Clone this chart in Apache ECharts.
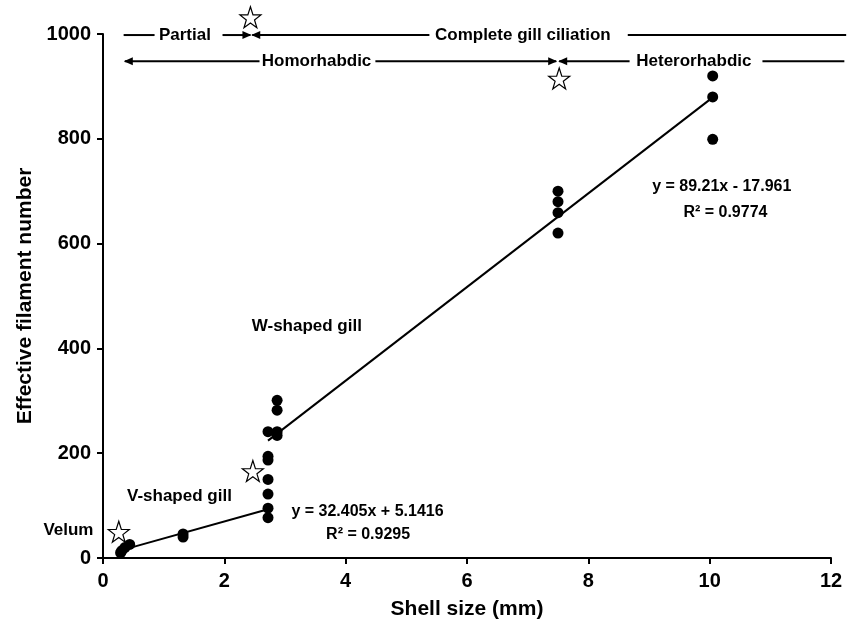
<!DOCTYPE html>
<html>
<head>
<meta charset="utf-8">
<script src="https://cdn.jsdelivr.net/npm/echarts@6/dist/echarts.min.js"></script>
<style>
  html, body { margin: 0; background: #fff; }
  #main { width: 855px; height: 625px; }
</style>
</head>
<body>
<div id="main"></div>
<script>
const shellSize = [0.29, 0.31, 0.36, 0.44, 1.32, 1.32,
  2.72, 2.72, 2.72, 2.72, 2.72, 2.72, 2.72,
  2.87, 2.87, 2.87, 2.87,
  7.5, 7.5, 7.5, 7.5,
  10.05, 10.05, 10.05];
const filaments = [10, 14, 20, 26, 46, 40,
  77, 95, 122, 150, 187, 194, 241,
  301, 282, 241, 234,
  700, 680, 659, 620,
  920, 880, 799];

// regression lines, end points
const vFitX = [0.34, 2.72];
const vFitY = [16, 93];
const wFitX = [2.72, 10.05];
const wFitY = [224, 879];

// open stars (stage transitions)
const starX = [0.26, 2.47, 2.43, 7.52];
const starY = [50, 166, 1032, 915];

// top stage bars: [from, to, arrow]
const ciliationY = 998;
const ciliationSegs = [[0.34, 0.85, 'none'], [1.97, 2.43, 'end'], [2.46, 5.38, 'start'], [8.65, 12.25, 'none']];
const ciliationLabels = ['Partial', 'Complete gill ciliation'];
const ciliationLabelX = [1.35, 6.92];

const rhabdicY = 948;
const rhabdicSegs = [[0.36, 2.58, 'start'], [4.49, 7.47, 'end'], [7.52, 8.68, 'start'], [10.87, 12.22, 'none']];
const rhabdicLabels = ['Homorhabdic', 'Heterorhabdic'];
const rhabdicLabelX = [3.52, 9.74];

// free text in the plot: [text, x, y, size]
const notes = [
  ['Velum', -0.57, 53, 17],
  ['V-shaped gill', 1.26, 117, 17],
  ['W-shaped gill', 3.36, 442, 17],
  ['y = 32.405x + 5.1416', 4.36, 88, 16],
  ['R\u00b2 = 0.9295', 4.37, 44, 16],
  ['y = 89.21x - 17.961', 10.2, 709, 16],
  ['R\u00b2 = 0.9774', 10.26, 660, 16]
];

const font = '"Liberation Sans", Arial, Helvetica, sans-serif';
const zip = (a, b) => a.map((v, i) => [v, b[i]]);
const starPath = 'path://M50,0 L61.8,35.4 L98.1,35.4 L68.8,57.3 L79.4,90.5 L50,70 L20.6,90.5 L31.2,57.3 L1.9,35.4 L38.2,35.4 Z';

const chart = echarts.init(document.getElementById('main'));

const axisCommon = {
  type: 'value',
  axisLine: { show: true, lineStyle: { color: '#000', width: 2 } },
  axisTick: { show: true, length: 6, lineStyle: { color: '#000', width: 2 } },
  splitLine: { show: false },
  nameLocation: 'middle',
  nameTextStyle: { color: '#000', fontSize: 21, fontWeight: 'bold', fontFamily: font }
};
const tickLabel = { color: '#000', fontSize: 20, fontWeight: 'bold', fontFamily: font, formatter: v => String(v) };

chart.setOption({
  animation: false,
  backgroundColor: '#fff',
  grid: { left: 103, right: 24, top: 34, bottom: 67 },
  xAxis: Object.assign({}, axisCommon, {
    min: 0, max: 12, interval: 2,
    name: 'Shell size (mm)', nameGap: 41,
    axisLabel: Object.assign({ margin: 13 }, tickLabel)
  }),
  yAxis: Object.assign({}, axisCommon, {
    min: 0, max: 1000, interval: 200,
    name: 'Effective filament number', nameGap: 53,
    axisLabel: Object.assign({ margin: 12 }, tickLabel)
  }),
  series: [
    {
      type: 'scatter',
      data: zip(shellSize, filaments),
      symbolSize: 11,
      itemStyle: { color: '#000', opacity: 1 },
      z: 3
    },
    {
      type: 'line',
      data: zip(vFitX, vFitY),
      showSymbol: false,
      lineStyle: { color: '#000', width: 2 },
      silent: true,
      z: 2
    },
    {
      type: 'line',
      data: zip(wFitX, wFitY),
      showSymbol: false,
      lineStyle: { color: '#000', width: 2 },
      silent: true,
      z: 2
    },
    {
      type: 'scatter',
      data: zip(starX, starY),
      symbol: starPath,
      symbolSize: 21,
      clip: false,
      itemStyle: { color: '#fff', borderColor: '#000', borderWidth: 1.2, opacity: 1 },
      z: 4
    }
  ]
});

// annotations placed through the axes
const toPx = (x, y) => chart.convertToPixel({ seriesIndex: 0 }, [x, y]);
const graphics = [];

function addRow(segs, y) {
  segs.forEach(s => {
    const a = toPx(s[0], y), b = toPx(s[1], y);
    graphics.push({
      type: 'line',
      shape: { x1: a[0], y1: a[1], x2: b[0], y2: b[1] },
      style: { stroke: '#000', lineWidth: 2 }
    });
    if (s[2] === 'end') {
      graphics.push({
        type: 'polygon',
        shape: { points: [[b[0] + 1, b[1]], [b[0] - 8, b[1] - 4], [b[0] - 8, b[1] + 4]] },
        style: { fill: '#000' }
      });
    } else if (s[2] === 'start') {
      graphics.push({
        type: 'polygon',
        shape: { points: [[a[0] - 1, a[1]], [a[0] + 8, a[1] - 4], [a[0] + 8, a[1] + 4]] },
        style: { fill: '#000' }
      });
    }
  });
}

function addText(text, x, y, size) {
  const p = toPx(x, y);
  graphics.push({
    type: 'text',
    style: {
      text: text, x: p[0], y: p[1],
      font: 'bold ' + size + 'px ' + font,
      fill: '#000',
      textAlign: 'center', textVerticalAlign: 'middle',
      align: 'center', verticalAlign: 'middle'
    }
  });
}

addRow(ciliationSegs, ciliationY);
addRow(rhabdicSegs, rhabdicY);
ciliationLabels.forEach((t, i) => addText(t, ciliationLabelX[i], ciliationY, 17));
rhabdicLabels.forEach((t, i) => addText(t, rhabdicLabelX[i], rhabdicY, 17));
notes.forEach(n => addText(n[0], n[1], n[2], n[3]));

chart.setOption({ graphic: graphics });
</script>
</body>
</html>
